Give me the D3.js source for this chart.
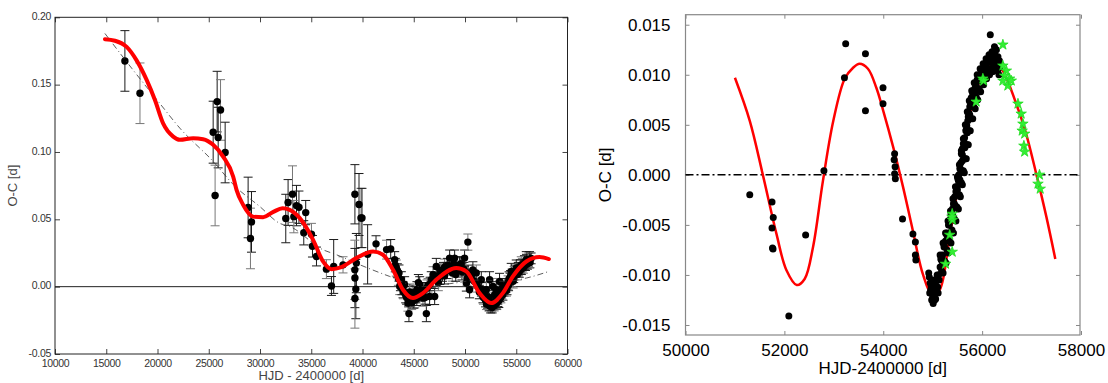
<!DOCTYPE html>
<html><head><meta charset="utf-8">
<script src="https://cdn.jsdelivr.net/npm/d3@7"></script>
<style>body{margin:0;background:#fff}svg{display:block}</style>
</head><body>
<svg id="c" width="1108" height="383"></svg>
<script>
// ---------- LEFT PANEL DATA ----------
const leftX = [16820,18290,25430,25820,26150,25920,26600,25620,28840,29170,29070,
 32515,32740,33170,33560,33800,33300,34460,34270,35020,35120,35510,36480,36970,37190,38100,
 39260,39660,39850,39950,39400,39250,39260,39350,39260,40500,41320,42350,42750,
 43140,43300,43560,43790,43630,43950,44210,44430,44530,44110,44920,45310,45580,45090,46230,46550,45900,47040,44700,44600,45000,45200,45700,45450,46000,46300,
 46710,47200,46880,47520,47800,48010,48500,48990,48760,49470,49960,50280,50130,50450,51100,50770,48250,49200,49700,50300,47400,48000,
 51590,52080,51750,52400,52720,53050,53370,53690,54510,55000,55490,55980,56300,52240,52720,53210,
 51800,52000,52200,52400,52600,52800,53000,53200,53400,53600,53800,54000,54200,54400,54600,54800,55200,55400,55600,55800,56000,56200,52300,52500,53100,53300,51600,52900,54100,54300,54700,
 43200,43400,43500,43700,43850,44000,44300,44500,44800,45000,45300,45500,45800,46100,46400,46600,
 47300,47600,47900,48300,48600,48900,49100,49400,49600,49900,50200,50600,50900,51200,51400,
 51900,52100,52350,52650,52850,53050,53250,53500,53700,53900,54050,54250,54450,54550,54750,54900,55100,55300,55500,55700,55900,56100,56350,56450];
const leftY = [0.1676,0.1436,0.1147,0.1374,0.1312,0.1107,0.0996,0.0677,0.0588,0.0481,0.0358,
 0.0506,0.0625,0.0687,0.0602,0.059,0.052,0.055,0.040,0.039,0.030,0.0224,0.013,0.0005,0.015,0.0162,
 0.0686,0.061,0.051,0.051,0.0175,0.0125,0.0064,-0.0018,-0.0088,0.024,0.0318,0.0275,0.028,
 0.020,0.0138,0.0101,0.0051,0.0001,-0.0023,-0.006,-0.0122,-0.020,0.0014,-0.0048,-0.0023,0.0014,-0.0097,-0.020,-0.0073,-0.0085,-0.0073,-0.008,-0.004,-0.010,-0.006,-0.005,0.003,-0.003,-0.001,
 0.0051,0.015,0.0088,0.0076,0.010,0.0145,0.0212,0.0212,0.0101,0.0162,0.0212,0.0331,0.0027,-0.0023,0.0101,0.0125,0.012,0.013,0.011,0.010,0.003,0.008,
 0.0051,-0.0023,-0.006,0.0051,0.0001,-0.0023,0.0039,0.0001,0.0113,0.0138,0.0162,0.020,0.020,-0.0097,-0.0122,-0.0097,
 -0.008,-0.010,-0.011,-0.0125,-0.013,-0.0115,-0.010,-0.008,-0.006,-0.004,-0.002,0.001,0.003,0.005,0.008,0.010,0.013,0.015,0.016,0.018,0.019,0.020,-0.008,-0.0145,-0.012,-0.0105,-0.002,-0.006,-0.001,0.006,0.004,
 0.016,0.012,0.006,0.002,-0.001,-0.004,-0.008,-0.010,-0.012,-0.007,-0.009,-0.006,-0.002,-0.008,0.001,0.002,
 0.008,0.012,0.013,0.016,0.014,0.017,0.009,0.012,0.017,0.013,0.006,0.008,0.004,0.001,-0.004,
 -0.005,-0.013,-0.014,-0.0155,-0.014,-0.0125,-0.006,-0.008,-0.006,0.0,-0.003,0.001,0.008,0.004,0.007,0.012,0.009,0.011,0.013,0.014,0.016,0.017,0.018,0.021];
const leftErr = [0.0225,0.0225,0.023,0.0225,0.0225,0.0225,0.0225,0.0225,0.0225,0.0225,0.0225,
 0.018,0.017,0.021,0.015,0.012,0.012,0.009,0.009,0.008,0.008,0.007,0.007,0.007,0.020,0.006,
 0.022,0.023,0.022,0.022,0.022,0.022,0.022,0.022,0.022,0.022,0.006,0.007,0.007,
 0.006,0.006,0.006,0.006,0.006,0.006,0.006,0.006,0.006,0.006,0.006,0.006,0.006,0.006,0.006,0.006,0.006,0.006,0.006,0.006,0.006,0.006,0.006,0.006,0.006,0.006,
 0.006,0.006,0.006,0.006,0.006,0.006,0.006,0.006,0.006,0.006,0.006,0.006,0.006,0.006,0.006,0.006,0.006,0.006,0.006,0.006,0.006,0.006,
 0.006,0.006,0.006,0.006,0.006,0.006,0.006,0.006,0.006,0.006,0.006,0.006,0.006,0.005,0.005,0.005,
 0.005,0.005,0.005,0.005,0.005,0.005,0.005,0.005,0.005,0.005,0.005,0.005,0.005,0.005,0.005,0.005,0.005,0.005,0.005,0.005,0.005,0.005,0.005,0.005,0.005,0.005,0.005,0.005,0.005,0.005,0.005,
 0.005,0.005,0.005,0.005,0.005,0.005,0.005,0.005,0.005,0.005,0.005,0.005,0.005,0.005,0.005,0.005,
 0.005,0.005,0.005,0.005,0.005,0.005,0.005,0.005,0.005,0.005,0.005,0.005,0.005,0.005,0.005,
 0.004,0.004,0.004,0.004,0.004,0.004,0.004,0.004,0.004,0.004,0.004,0.004,0.004,0.004,0.004,0.004,0.004,0.004,0.004,0.004,0.004,0.004,0.004,0.004];
const leftFitX = [14870,15850,16990,17960,18940,19750,20560,21530,22180,23480,24450,25430,26400,27380,27710,28350,29330,30300,31300,32200,32900,33880,35180,36150,36970,37940,39400,41030,42000,42980,43950,44920,45900,47200,49150,50130,51420,52560,53690,54670,55980,57270,58180];
const leftFitY = [0.1837,0.1826,0.178,0.168,0.1535,0.1386,0.121,0.1114,0.109,0.1102,0.1095,0.1053,0.0966,0.0818,0.0719,0.0608,0.052,0.0516,0.0555,0.0582,0.057,0.0509,0.0348,0.0187,0.013,0.0145,0.0212,0.0261,0.0237,0.0125,-0.0023,-0.0085,-0.0048,0.0051,0.0138,0.0113,-0.0048,-0.0122,-0.0048,0.0076,0.0187,0.022,0.0205];
const leftTrendX = [14870,17500,20230,22180,25430,27500,29980,31930,32900,36150,37460,39500,42650,45580,48825,51420,54020,55980,58180];
const leftTrendY = [0.188,0.162,0.136,0.1177,0.093,0.075,0.0595,0.047,0.0447,0.0274,0.0237,0.017,0.0076,0.0,0.0025,0.005,0.0039,0.0064,0.0113];
const leftXTicks = [10000,15000,20000,25000,30000,35000,40000,45000,50000,55000,60000];
const leftYTicks = [-0.05,0.00,0.05,0.10,0.15,0.20];

// ---------- RIGHT PANEL DATA ----------
const rightX = [51300,51750,51775,51750,51760,51770,52430,52090,52800,53240,53215,53640,53640,53995,53995,54230,54220,54240,54230,54245,54390,54600,54650,54650,54660,
 54930,54950,54970,54990,55000,55010,55030,55050,55060,55080,55100,55040,54960,55020,55070,
 55120,55150,55175,55200,55230,55260,55290,55320,55345,55370,55400,55420,55445,55470,55490,55510,55530,55550,55570,55580,55600,55620,55645,55670,55690,55710,55730,55750,55780,55810,55850,55880,55920,55960,56000,56030,56070,56110,56150,56190,56220,56250,56270,56300,56330,56360,56380,56165,56250,
 55200,55300,55400,55500,55600,55700,55800,55900,56100,56200,55350,55450,55550,55650,55750,55850,
 55150,55210,55260,55310,55360,55410,55460,55500,55540,55580,55620,55660,55700,55740,55790,55840,55900,55960,56020,56080,56140,56200,
 55180,55240,55290,55340,55390,55440,55490,55540,55580,55620,55660,55700,55740,55780,55830,55880,55940,56000,56060,56120,56180,56240,56300,56340,
 54920,54940,54980,55020,55060,55090,55110,55130,55000,55040,
 56200,56230,56280,56320,56350,56290,56260,
 55165,55235,55285,55335,55385,55430,55480,55520,55560,55600,55640,55680,55720,55765,55820,55870,55930,55990,56050,56110,56170,56230,
 55210,55270,55320,55370,55420,55470,55520,55560,55600,55640,55680,55720,55760,55810,55860,55910,55970,56030,56090,56150,56210,56270,56320];
const rightY = [-0.0020,-0.0027,-0.00425,-0.0053,-0.0073,-0.0074,-0.0060,-0.0141,0.0004,0.0131,0.0097,0.0121,0.0064,0.0087,0.0071,0.0021,0.0015,0.0008,0.0001,-0.0004,-0.0044,-0.0059,-0.0067,-0.0080,-0.0085,
 -0.0102,-0.0108,-0.0112,-0.0118,-0.0122,-0.01285,-0.0120,-0.0115,-0.0110,-0.0105,-0.0112,-0.0125,-0.0115,-0.0108,-0.0118,
 -0.0100,-0.0092,-0.0085,-0.0080,-0.0072,-0.0066,-0.0058,-0.0050,-0.0045,-0.0040,-0.0034,-0.0029,-0.0022,-0.0017,-0.0012,-0.0004,0.0000,0.0006,0.0012,0.0021,0.0026,0.0031,0.0037,0.0044,0.0049,0.0054,0.0062,0.0068,0.0077,0.0081,0.0086,0.0088,0.0094,0.0099,0.0102,0.0105,0.0109,0.0112,0.0114,0.0116,0.0118,0.0124,0.0119,0.0115,0.0112,0.0108,0.0110,0.0140,0.0128,
 -0.0088,-0.0064,-0.0040,-0.0015,0.0014,0.0042,0.0070,0.0095,0.0106,0.0112,-0.0058,-0.0030,-0.0005,0.0027,0.0060,0.0082,
 -0.0080,-0.0068,-0.0058,-0.0046,-0.0036,-0.0024,-0.0012,-0.0002,0.0010,0.0024,0.0036,0.0050,0.0063,0.0074,0.0084,0.0092,0.0100,0.0106,0.0111,0.0116,0.0120,0.0123,
 -0.0096,-0.0086,-0.0075,-0.0066,-0.0055,-0.0044,-0.0032,-0.0020,-0.0008,0.0004,0.0016,0.0030,0.0044,0.0056,0.0068,0.0078,0.0086,0.0093,0.0099,0.0103,0.0106,0.0108,0.0104,0.0100,
 -0.0098,-0.0118,-0.0125,-0.0120,-0.0124,-0.0100,-0.0118,-0.0105,-0.0105,-0.0112,
 0.0118,0.0121,0.0112,0.0118,0.0114,0.0125,0.0116,
 -0.0084,-0.0071,-0.0060,-0.0050,-0.0040,-0.0028,-0.0016,-0.0006,0.0006,0.0020,0.0032,0.0045,0.0058,0.0070,0.0082,0.0090,0.0098,0.0104,0.0110,0.0115,0.0119,0.0122,
 -0.0098,-0.0088,-0.0078,-0.0068,-0.0058,-0.0046,-0.0034,-0.0022,-0.0010,0.0002,0.0016,0.0030,0.0044,0.0056,0.0066,0.0075,0.0083,0.0090,0.0096,0.0100,0.0103,0.0106,0.0105];
const starX = [56420,56420,56490,56455,56555,56520,56590,56420,56725,56790,56825,56810,56860,56845,56860,57160,57130,57175,56015,56030,55880,55395,55400,55390,55345,55395,55260];
const starY = [0.0130,0.0109,0.0104,0.0099,0.0096,0.0089,0.0094,0.0094,0.0071,0.0061,0.0051,0.0044,0.0041,0.0029,0.0023,0.0000,-0.0009,-0.0014,0.0096,0.0094,0.0073,-0.0039,-0.0045,-0.0042,-0.0060,-0.0077,-0.0089];
const rightFitX = [51000,51300,51560,51840,52040,52250,52410,52580,52780,52990,53220,53390,53520,53690,53860,54000,54200,54400,54600,54800,54990,55140,55340,55545,55750,55950,56150,56270,56380,56490,56690,56890,57095,57300,57480];
const rightFitY = [0.0097,0.0054,0.0001,-0.0059,-0.0095,-0.0110,-0.0104,-0.0072,-0.0006,0.0054,0.0096,0.0107,0.0111,0.0106,0.0087,0.0064,0.0028,-0.0012,-0.0056,-0.0099,-0.0120,-0.0115,-0.0062,-0.0002,0.0061,0.0094,0.0110,0.0113,0.0107,0.0097,0.0071,0.0041,0.0001,-0.0042,-0.0084];
const rightXTicks = [50000,52000,54000,56000,58000];
const rightYTicks = [-0.015,-0.010,-0.005,0.000,0.005,0.010,0.015];

const svg = d3.select("#c");

// ================= LEFT PANEL =================
const L = {l:55, r:567.5, t:17.3, b:354};
const xL = d3.scaleLinear().domain([10000,60000]).range([L.l, L.r]);
const yL = d3.scaleLinear().domain([-0.05,0.20]).range([L.b, L.t]);
const gL = svg.append("g");
const lfont = "'Liberation Sans', Arial, sans-serif";

const axB = gL.append("g").attr("transform",`translate(0,${L.b})`)
  .call(d3.axisBottom(xL).tickValues(leftXTicks).tickFormat(d3.format("d")).tickSize(-5).tickPadding(6));
const axL = gL.append("g").attr("transform",`translate(${L.l},0)`)
  .call(d3.axisLeft(yL).tickValues(leftYTicks).tickFormat(d=>d.toFixed(2)).tickSize(-5).tickPadding(4));
const axT = gL.append("g").attr("transform",`translate(0,${L.t})`)
  .call(d3.axisTop(xL).tickValues(leftXTicks).tickFormat("").tickSize(-5));
const axR = gL.append("g").attr("transform",`translate(${L.r},0)`)
  .call(d3.axisRight(yL).tickValues(leftYTicks).tickFormat("").tickSize(-5));
[axB,axL,axT,axR].forEach(a=>{
  a.select(".domain").remove();
  a.selectAll(".tick line").attr("stroke","#444");
  a.selectAll("text").attr("fill","#333").style("font-family",lfont).style("font-size","10.5px").style("letter-spacing","-0.3px");
});
axL.selectAll("text").attr("dy","0.2em");
gL.append("rect").attr("x",L.l).attr("y",L.t).attr("width",L.r-L.l).attr("height",L.b-L.t)
  .attr("fill","none").attr("stroke","#222").attr("stroke-width",1);
gL.append("line").attr("x1",L.l).attr("x2",L.r).attr("y1",yL(0)).attr("y2",yL(0)).attr("stroke","#222").attr("stroke-width",1);

const lpts = leftX.map((x,i)=>({x, y:leftY[i], e:leftErr[i]}));
const eb = gL.append("g").attr("stroke-width",1);
lpts.forEach((p,i)=>{
  const col = i%3===1 ? "#777" : "#1a1a1a";
  const x = xL(p.x), y1 = yL(p.y+p.e), y2 = yL(p.y-p.e);
  eb.append("line").attr("x1",x).attr("x2",x).attr("y1",y1).attr("y2",y2).attr("stroke",col);
  eb.append("line").attr("x1",x-4.5).attr("x2",x+4.5).attr("y1",y1).attr("y2",y1).attr("stroke",col);
  eb.append("line").attr("x1",x-4.5).attr("x2",x+4.5).attr("y1",y2).attr("y2",y2).attr("stroke",col);
});
gL.append("g").selectAll("circle").data(lpts).join("circle")
  .attr("cx",d=>xL(d.x)).attr("cy",d=>yL(d.y)).attr("r",3.7).attr("fill","#000");

const trend = leftTrendX.map((x,i)=>[x,leftTrendY[i]]);
gL.append("path").attr("d", d3.line().x(d=>xL(d[0])).y(d=>yL(d[1])).curve(d3.curveMonotoneX)(trend))
  .attr("fill","none").attr("stroke","#333").attr("stroke-width",0.8).attr("stroke-dasharray","6,3,1,3");
const lfit = leftFitX.map((x,i)=>[x,leftFitY[i]]);
gL.append("path").attr("d", d3.line().x(d=>xL(d[0])).y(d=>yL(d[1])).curve(d3.curveMonotoneX)(lfit))
  .attr("fill","none").attr("stroke","#f00").attr("stroke-width",4).attr("stroke-linecap","round");

gL.append("text").attr("x",(L.l+L.r)/2).attr("y",380).attr("text-anchor","middle")
  .attr("fill","#444").style("font-family",lfont).style("font-size","13px").text("HJD - 2400000 [d]");
gL.append("text").attr("transform",`translate(17,${(L.t+L.b)/2}) rotate(-90)`).attr("text-anchor","middle")
  .attr("fill","#444").style("font-family",lfont).style("font-size","13px").text("O-C [d]");

// ================= RIGHT PANEL =================
const R = {l:685.5, r:1080, t:14.7, b:335};
const xR = d3.scaleLinear().domain([50000,58000]).range([R.l, 1081]);
const yR = d3.scaleLinear().domain([-0.016,0.016]).range([R.b, R.t]);
const gR = svg.append("g");

const rb = gR.append("g").attr("transform",`translate(0,${R.b})`)
  .call(d3.axisBottom(xR).tickValues(rightXTicks).tickFormat(d3.format("d")).tickSize(-4).tickPadding(9));
const rl = gR.append("g").attr("transform",`translate(${R.l},0)`)
  .call(d3.axisLeft(yR).tickValues(rightYTicks).tickFormat(d=>d.toFixed(3)).tickSize(-4).tickPadding(15));
const rt = gR.append("g").attr("transform",`translate(0,${R.t})`)
  .call(d3.axisTop(xR).tickValues(rightXTicks).tickFormat("").tickSize(-4));
const rr = gR.append("g").attr("transform",`translate(${R.r},0)`)
  .call(d3.axisRight(yR).tickValues(rightYTicks).tickFormat("").tickSize(-4));
[rb,rl,rt,rr].forEach(a=>{
  a.select(".domain").remove();
  a.selectAll(".tick line").attr("stroke","#888");
  a.selectAll("text").attr("fill","#000").style("font-family",lfont).style("font-size","17px");
});
gR.append("rect").attr("x",R.l).attr("y",R.t).attr("width",R.r-R.l).attr("height",R.b-R.t)
  .attr("fill","none").attr("stroke","#888").attr("stroke-width",1.2);

gR.append("line").attr("x1",R.l).attr("x2",R.r).attr("y1",yR(0)).attr("y2",yR(0))
  .attr("stroke","#000").attr("stroke-width",1.5).attr("stroke-dasharray","8,3,2,3");
const rfit = rightFitX.map((x,i)=>[x,rightFitY[i]]);
gR.append("path").attr("d", d3.line().x(d=>xR(d[0])).y(d=>yR(d[1])).curve(d3.curveCatmullRom.alpha(0.5))(rfit))
  .attr("fill","none").attr("stroke","#f00").attr("stroke-width",2.5);
const rpts = rightX.map((x,i)=>({x, y:rightY[i]}));
gR.append("g").selectAll("circle").data(rpts).join("circle")
  .attr("cx",d=>xR(d.x)).attr("cy",d=>yR(d.y)).attr("r",3.5).attr("fill","#000");
const spts = starX.map((x,i)=>({x, y:starY[i]}));
const star = d3.symbol().type(d3.symbolStar).size(34);
gR.append("g").selectAll("path").data(spts).join("path")
  .attr("transform",d=>`translate(${xR(d.x)},${yR(d.y)})`).attr("d",star)
  .attr("fill","#33ee33").attr("stroke","#22dd22").attr("stroke-width",0.8);

gR.append("text").attr("x",(R.l+R.r)/2).attr("y",374).attr("text-anchor","middle")
  .attr("fill","#000").style("font-family",lfont).style("font-size","17px").text("HJD-2400000 [d]");
gR.append("text").attr("transform",`translate(611,${(R.t+R.b)/2}) rotate(-90)`).attr("text-anchor","middle")
  .attr("fill","#000").style("font-family",lfont).style("font-size","17px").text("O-C [d]");
</script>
</body></html>
